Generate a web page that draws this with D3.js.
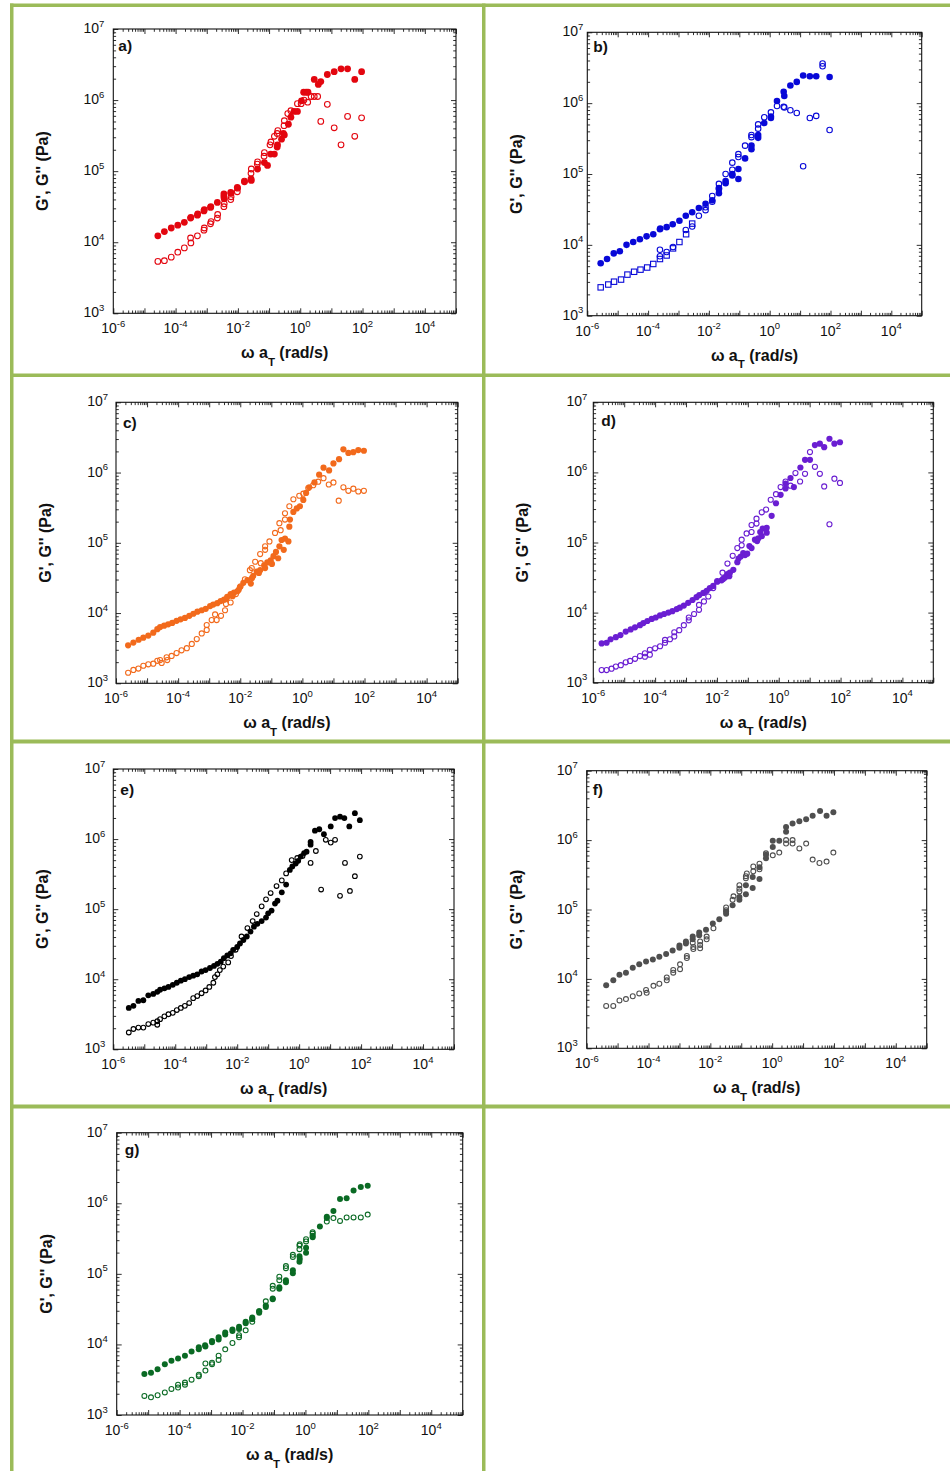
<!DOCTYPE html>
<html>
<head>
<meta charset="utf-8">
<script src="https://cdn.jsdelivr.net/npm/d3@7"></script>
<style>
  body { margin: 0; background: #fff; }
  svg { display: block; }
  text { font-family: "Liberation Sans", Arial, Helvetica, sans-serif; fill: #111; }
</style>
</head>
<body>
<svg id="fig" width="950" height="1471"></svg>
<script>
// Master curves G'(ω aT) and G''(ω aT); every point is [log10(ω aT / rad s^-1), log10(G / Pa)].

// a)
const aStorage = [[-4.57,4.09],[-4.36,4.15],[-4.14,4.20],[-3.93,4.24],[-3.72,4.28],[-3.52,4.34],[-3.51,4.35],[-3.30,4.38],[-3.29,4.40],[-3.09,4.44],[-3.08,4.46],[-2.88,4.49],[-2.87,4.50],[-2.66,4.56],[-2.45,4.64],[-2.45,4.68],[-2.44,4.61],[-2.23,4.70],[-2.22,4.69],[-2.02,4.77],[-1.79,4.85],[-1.58,4.89],[-1.57,4.87],[-1.37,5.03],[-1.15,5.12],[-1.05,5.08],[-0.95,5.24],[-0.83,5.24],[-0.74,5.34],[-0.73,5.37],[-0.60,5.45],[-0.54,5.53],[-0.51,5.51],[-0.38,5.66],[-0.30,5.76],[-0.20,5.84],[-0.09,5.84],[0.04,5.99],[0.11,6.11],[0.19,6.11],[0.25,6.11],[0.45,6.29],[0.58,6.22],[0.66,6.26],[0.87,6.36],[1.09,6.40],[1.31,6.44],[1.52,6.44],[1.75,6.29],[1.97,6.40]];
const aLoss = [[-4.57,3.73],[-4.36,3.74],[-4.14,3.79],[-3.93,3.86],[-3.72,3.92],[-3.52,4.06],[-3.51,3.99],[-3.30,4.09],[-3.09,4.17],[-3.08,4.20],[-2.88,4.26],[-2.86,4.29],[-2.66,4.34],[-2.65,4.39],[-2.45,4.50],[-2.44,4.54],[-2.23,4.60],[-2.22,4.64],[-2.02,4.71],[-2.01,4.76],[-1.79,4.86],[-1.58,4.97],[-1.57,5.03],[-1.38,5.10],[-1.37,5.13],[-1.16,5.21],[-1.15,5.26],[-0.97,5.37],[-0.94,5.41],[-0.83,5.49],[-0.74,5.53],[-0.72,5.57],[-0.52,5.64],[-0.51,5.71],[-0.40,5.81],[-0.30,5.85],[-0.09,5.95],[0.03,5.95],[0.12,6.00],[0.24,5.97],[0.35,6.05],[0.45,6.05],[0.56,6.05],[0.66,5.70],[0.87,5.94],[1.09,5.61],[1.31,5.37],[1.52,5.77],[1.75,5.49],[1.97,5.75]];

// b)
const bStorage = [[-5.56,3.74],[-5.35,3.80],[-5.13,3.88],[-4.93,3.91],[-4.71,4.00],[-4.49,4.04],[-4.27,4.08],[-4.05,4.12],[-3.83,4.15],[-3.61,4.22],[-3.60,4.23],[-3.39,4.25],[-3.19,4.29],[-2.97,4.34],[-2.76,4.41],[-2.55,4.46],[-2.33,4.52],[-2.11,4.58],[-1.89,4.63],[-1.67,4.73],[-1.67,4.79],[-1.45,4.87],[-1.45,4.90],[-1.23,4.98],[-1.23,5.00],[-1.03,5.07],[-1.03,4.93],[-0.81,5.22],[-0.60,5.35],[-0.60,5.40],[-0.38,5.51],[-0.38,5.55],[-0.18,5.72],[0.04,5.79],[0.04,5.81],[0.24,6.03],[0.46,6.16],[0.48,6.10],[0.68,6.25],[0.89,6.30],[1.10,6.39],[1.32,6.38],[1.53,6.38],[1.97,6.37]];
const bLoss = [[-3.61,3.93],[-3.61,3.84],[-3.39,3.90],[-3.18,3.97],[-2.76,4.21],[-2.55,4.26],[-2.33,4.41],[-2.11,4.49],[-2.11,4.53],[-1.89,4.61],[-1.89,4.69],[-1.67,4.80],[-1.67,4.86],[-1.45,5.00],[-1.23,5.06],[-1.23,5.16],[-1.03,5.28],[-1.03,5.24],[-0.81,5.40],[-0.60,5.55],[-0.60,5.52],[-0.38,5.70],[-0.38,5.64],[-0.18,5.80],[0.04,5.87],[0.24,5.96],[0.46,5.95],[0.48,5.94],[0.68,5.90],[0.89,5.86],[1.10,5.11],[1.32,5.79],[1.53,5.82],[1.74,6.56],[1.74,6.52],[1.97,5.62]];
const bLossLowFreq = [[-5.56,3.40],[-5.31,3.44],[-5.12,3.48],[-4.89,3.51],[-4.68,3.58],[-4.46,3.62],[-4.25,3.65],[-4.03,3.68],[-3.83,3.73],[-3.61,3.80],[-3.39,3.85],[-3.18,3.95],[-2.97,4.04],[-2.75,4.15],[-2.55,4.30]];

// c)
const cStorage = [[-5.61,3.54],[-5.44,3.58],[-5.27,3.62],[-5.12,3.65],[-4.96,3.68],[-4.80,3.72],[-4.67,3.77],[-4.58,3.80],[-4.45,3.82],[-4.32,3.84],[-4.19,3.86],[-4.05,3.89],[-3.92,3.91],[-3.78,3.93],[-3.64,3.96],[-3.51,3.99],[-3.38,4.02],[-3.24,4.04],[-3.11,4.06],[-2.97,4.10],[-2.87,4.12],[-2.74,4.14],[-2.63,4.17],[-2.52,4.19],[-2.45,4.20],[-2.42,4.23],[-2.31,4.27],[-2.25,4.24],[-2.20,4.29],[-2.09,4.31],[-2.05,4.33],[-2.01,4.37],[-1.90,4.43],[-1.77,4.47],[-1.66,4.42],[-1.62,4.50],[-1.58,4.53],[-1.47,4.59],[-1.40,4.57],[-1.36,4.61],[-1.23,4.68],[-1.20,4.64],[-1.13,4.72],[-1.02,4.75],[-0.98,4.70],[-0.93,4.81],[-0.85,4.87],[-0.78,4.78],[-0.74,4.95],[-0.67,5.04],[-0.60,4.90],[-0.56,5.06],[-0.45,5.02],[-0.42,5.23],[-0.40,5.33],[-0.29,5.44],[-0.18,5.49],[-0.08,5.52],[0.03,5.61],[0.12,5.71],[0.22,5.79],[0.39,5.86],[0.54,5.97],[0.68,6.07],[0.86,6.03],[1.00,6.13],[1.18,6.19],[1.32,6.33],[1.48,6.28],[1.64,6.29],[1.80,6.32],[1.98,6.31]];
const cLoss = [[-5.61,3.15],[-5.44,3.19],[-5.28,3.21],[-5.12,3.25],[-4.96,3.27],[-4.80,3.28],[-4.67,3.32],[-4.58,3.33],[-4.53,3.29],[-4.37,3.37],[-4.35,3.33],[-4.21,3.39],[-4.05,3.43],[-3.89,3.47],[-3.72,3.50],[-3.56,3.56],[-3.40,3.63],[-3.24,3.71],[-3.08,3.76],[-3.08,3.83],[-2.92,3.90],[-2.81,3.98],[-2.76,3.90],[-2.62,3.96],[-2.49,4.04],[-2.46,4.13],[-2.31,4.15],[-2.14,4.27],[-1.99,4.38],[-1.85,4.48],[-1.69,4.61],[-1.63,4.64],[-1.52,4.73],[-1.36,4.84],[-1.34,4.71],[-1.20,4.95],[-1.20,4.90],[-1.06,5.02],[-0.88,5.14],[-0.74,5.28],[-0.70,5.18],[-0.56,5.42],[-0.56,5.33],[-0.42,5.52],[-0.29,5.62],[-0.10,5.67],[0.03,5.70],[0.19,5.78],[0.35,5.82],[0.51,5.87],[0.68,5.92],[0.85,5.83],[1.00,5.86],[1.17,5.60],[1.32,5.79],[1.48,5.74],[1.64,5.77],[1.80,5.73],[1.98,5.74]];

// d)
const dStorage = [[-5.73,3.56],[-5.57,3.57],[-5.44,3.62],[-5.27,3.65],[-5.12,3.68],[-4.95,3.73],[-4.79,3.76],[-4.65,3.79],[-4.49,3.82],[-4.38,3.85],[-4.25,3.88],[-4.11,3.91],[-3.98,3.93],[-3.84,3.96],[-3.71,3.98],[-3.57,4.00],[-3.44,4.02],[-3.30,4.05],[-3.20,4.07],[-3.07,4.10],[-2.93,4.14],[-2.79,4.18],[-2.66,4.22],[-2.57,4.25],[-2.44,4.28],[-2.33,4.31],[-2.23,4.35],[-2.12,4.38],[-1.99,4.44],[-1.85,4.46],[-1.80,4.48],[-1.74,4.50],[-1.66,4.55],[-1.60,4.52],[-1.58,4.57],[-1.47,4.61],[-1.34,4.72],[-1.30,4.77],[-1.23,4.80],[-1.15,4.85],[-1.09,4.82],[-1.02,4.84],[-0.95,4.95],[-0.88,4.92],[-0.77,5.04],[-0.70,5.02],[-0.66,5.06],[-0.60,5.15],[-0.55,5.09],[-0.52,5.20],[-0.39,5.14],[-0.39,5.21],[-0.23,5.38],[-0.09,5.56],[0.06,5.68],[0.22,5.77],[0.22,5.84],[0.38,5.92],[0.49,5.79],[0.70,6.07],[0.85,6.18],[1.01,6.18],[1.17,6.39],[1.33,6.41],[1.47,6.36],[1.64,6.48],[1.80,6.41],[1.98,6.43]];
const dLoss = [[-5.73,3.18],[-5.57,3.18],[-5.41,3.20],[-5.27,3.23],[-5.11,3.25],[-4.95,3.29],[-4.81,3.31],[-4.65,3.34],[-4.49,3.38],[-4.33,3.37],[-4.33,3.42],[-4.17,3.40],[-4.17,3.47],[-4.00,3.49],[-3.84,3.52],[-3.68,3.57],[-3.68,3.61],[-3.52,3.62],[-3.38,3.66],[-3.38,3.72],[-3.22,3.75],[-3.07,3.82],[-2.91,3.89],[-2.91,3.93],[-2.74,3.98],[-2.58,4.04],[-2.58,4.11],[-2.42,4.16],[-2.28,4.23],[-2.12,4.35],[-1.99,4.45],[-1.82,4.57],[-1.66,4.70],[-1.49,4.81],[-1.34,4.92],[-1.20,5.04],[-1.20,4.96],[-1.04,5.13],[-0.88,5.15],[-0.88,5.25],[-0.72,5.34],[-0.72,5.27],[-0.55,5.43],[-0.41,5.47],[-0.26,5.61],[-0.09,5.69],[0.06,5.79],[0.22,5.87],[0.38,5.81],[0.54,5.99],[0.69,5.87],[0.85,5.98],[1.01,6.29],[1.17,6.08],[1.33,5.98],[1.47,5.80],[1.64,5.26],[1.80,5.91],[1.98,5.85]];

// e)
const eStorage = [[-5.50,3.59],[-5.35,3.62],[-5.19,3.69],[-5.03,3.70],[-4.87,3.77],[-4.71,3.79],[-4.58,3.82],[-4.49,3.85],[-4.35,3.87],[-4.22,3.89],[-4.08,3.92],[-3.95,3.95],[-3.82,3.98],[-3.69,4.00],[-3.55,4.03],[-3.42,4.05],[-3.29,4.07],[-3.15,4.11],[-3.02,4.13],[-2.88,4.16],[-2.75,4.19],[-2.64,4.22],[-2.53,4.25],[-2.43,4.30],[-2.32,4.34],[-2.21,4.37],[-2.13,4.42],[-2.00,4.46],[-1.91,4.51],[-1.80,4.56],[-1.69,4.61],[-1.57,4.68],[-1.46,4.75],[-1.35,4.79],[-1.21,4.83],[-1.07,4.88],[-1.00,4.94],[-0.89,4.98],[-0.78,5.08],[-0.70,5.12],[-0.56,5.24],[-0.42,5.35],[-0.30,5.56],[-0.22,5.61],[-0.11,5.65],[-0.03,5.69],[0.05,5.75],[0.16,5.80],[0.24,5.82],[0.37,5.96],[0.37,5.92],[0.51,6.12],[0.65,6.14],[0.80,6.07],[1.02,6.18],[1.16,6.30],[1.32,6.32],[1.46,6.30],[1.62,6.18],[1.80,6.37],[1.96,6.27]];
const eLoss = [[-5.50,3.24],[-5.35,3.29],[-5.19,3.31],[-5.03,3.31],[-4.87,3.36],[-4.71,3.38],[-4.58,3.40],[-4.58,3.35],[-4.49,3.43],[-4.35,3.47],[-4.22,3.50],[-4.08,3.52],[-3.95,3.56],[-3.82,3.59],[-3.69,3.62],[-3.55,3.66],[-3.42,3.73],[-3.29,3.76],[-3.15,3.80],[-3.02,3.84],[-2.90,3.89],[-2.77,3.95],[-2.72,4.03],[-2.64,4.07],[-2.56,4.13],[-2.45,4.18],[-2.29,4.24],[-2.20,4.33],[-2.05,4.42],[-1.86,4.61],[-1.67,4.73],[-1.50,4.83],[-1.37,4.93],[-1.21,5.04],[-1.07,5.14],[-0.92,5.23],[-0.73,5.33],[-0.56,5.41],[-0.42,5.51],[-0.24,5.70],[-0.06,5.73],[0.11,5.76],[0.37,5.66],[0.54,5.83],[0.71,5.28],[0.86,5.99],[1.02,5.95],[1.16,5.99],[1.32,5.19],[1.48,5.66],[1.64,5.26],[1.80,5.47],[1.96,5.75]];

// f)
const fStorage = [[-5.37,3.91],[-5.14,3.98],[-4.94,4.06],[-4.73,4.09],[-4.51,4.16],[-4.30,4.21],[-4.08,4.25],[-3.86,4.28],[-3.65,4.32],[-3.43,4.36],[-3.22,4.41],[-3.00,4.45],[-3.00,4.48],[-2.79,4.51],[-2.79,4.54],[-2.57,4.57],[-2.57,4.61],[-2.36,4.63],[-2.36,4.67],[-2.14,4.71],[-1.92,4.80],[-1.71,4.86],[-1.49,4.97],[-1.49,4.94],[-1.28,5.06],[-1.06,5.14],[-1.06,5.18],[-0.85,5.35],[-0.85,5.22],[-0.63,5.47],[-0.63,5.31],[-0.41,5.61],[-0.41,5.44],[-0.20,5.74],[-0.20,5.79],[0.02,5.90],[0.02,5.99],[0.23,5.99],[0.45,6.12],[0.45,6.19],[0.66,6.24],[0.88,6.27],[1.10,6.30],[1.31,6.35],[1.55,6.42],[1.76,6.35],[1.98,6.40]];
const fLoss = [[-5.37,3.61],[-5.14,3.61],[-4.94,3.69],[-4.73,3.71],[-4.51,3.75],[-4.30,3.79],[-4.08,3.84],[-4.06,3.80],[-3.84,3.90],[-3.65,3.93],[-3.41,3.98],[-3.41,4.02],[-3.20,4.09],[-3.20,4.13],[-2.98,4.14],[-2.98,4.21],[-2.76,4.30],[-2.76,4.33],[-2.55,4.43],[-2.55,4.46],[-2.57,4.52],[-2.33,4.44],[-2.33,4.49],[-2.33,4.54],[-2.12,4.57],[-2.12,4.61],[-1.90,4.73],[-1.49,4.99],[-1.49,5.03],[-1.28,5.14],[-1.25,5.19],[-1.06,5.30],[-1.06,5.26],[-1.06,5.35],[-0.85,5.48],[-0.85,5.45],[-0.82,5.52],[-0.61,5.62],[-0.61,5.55],[-0.41,5.66],[-0.41,5.58],[-0.20,5.81],[0.02,5.78],[0.23,5.82],[0.45,5.95],[0.45,6.00],[0.66,6.00],[0.66,5.95],[0.88,5.88],[1.10,5.95],[1.31,5.72],[1.53,5.67],[1.76,5.69],[1.98,5.82]];

// g)
const gStorage = [[-5.12,3.58],[-4.91,3.60],[-4.70,3.65],[-4.47,3.72],[-4.26,3.77],[-4.05,3.80],[-3.83,3.84],[-3.62,3.90],[-3.39,3.93],[-3.39,3.96],[-3.19,3.99],[-3.18,3.97],[-2.97,4.03],[-2.97,4.05],[-2.76,4.07],[-2.76,4.10],[-2.55,4.14],[-2.55,4.17],[-2.32,4.19],[-2.32,4.21],[-2.11,4.22],[-2.11,4.25],[-1.90,4.30],[-1.90,4.32],[-1.69,4.36],[-1.69,4.38],[-1.47,4.45],[-1.47,4.47],[-1.26,4.53],[-1.26,4.55],[-1.04,4.64],[-1.04,4.65],[-0.83,4.79],[-0.83,4.81],[-0.62,4.88],[-0.62,4.91],[-0.40,5.01],[-0.40,5.05],[-0.19,5.17],[-0.19,5.25],[-0.18,5.21],[0.02,5.37],[0.02,5.30],[0.23,5.52],[0.23,5.54],[0.46,5.67],[0.68,5.81],[0.68,5.79],[0.89,5.89],[1.10,6.06],[1.31,6.07],[1.53,6.18],[1.76,6.23],[1.98,6.25]];
const gLoss = [[-5.12,3.27],[-4.91,3.25],[-4.70,3.28],[-4.47,3.32],[-4.26,3.37],[-4.05,3.39],[-4.05,3.43],[-3.83,3.43],[-3.83,3.46],[-3.62,3.50],[-3.39,3.55],[-3.39,3.57],[-3.18,3.63],[-3.18,3.73],[-2.97,3.72],[-2.97,3.74],[-2.76,3.78],[-2.76,3.84],[-2.55,3.93],[-2.32,4.02],[-2.11,4.10],[-2.11,4.13],[-1.90,4.20],[-1.69,4.32],[-1.69,4.36],[-1.47,4.47],[-1.26,4.61],[-1.04,4.79],[-1.04,4.83],[-0.83,4.91],[-0.83,4.96],[-0.62,5.08],[-0.62,5.11],[-0.40,5.24],[-0.40,5.27],[-0.19,5.35],[-0.19,5.40],[-0.18,5.42],[0.02,5.46],[0.02,5.49],[0.23,5.57],[0.23,5.59],[0.68,5.74],[0.89,5.79],[1.10,5.75],[1.31,5.80],[1.53,5.80],[1.76,5.80],[1.98,5.84]];

// Axis decades and labels
const xDecades = [-6, -5, -4, -3, -2, -1, 0, 1, 2, 3, 4, 5];
const xLabelExponents = [-6, -4, -2, 0, 2, 4];
const yDecades = [3, 4, 5, 6, 7];
const yLabelExponents = [3, 4, 5, 6, 7];
const panelNames = ["a)", "b)", "c)", "d)", "e)", "f)", "g)"];
const xTitle = ["ω a", "T", " (rad/s)"];
const yTitle = "G', G'' (Pa)";

// Frame geometry and styling for each panel of the grid
const panels = [
  { name: panelNames[0], storage: aStorage, loss: aLoss, color: "#e3060f", left: 113.3, right: 456.0, top: 29.0,   bottom: 313.3, gap: 9, lab: [5, 22], r: 3.4 },
  { name: panelNames[1], storage: bStorage, loss: bLoss, lossSquares: bLossLowFreq, color: "#0808d8", left: 587.3, right: 921.7, top: 32.3, bottom: 315.7, gap: 4, lab: [6, 20], r: 3.3 },
  { name: panelNames[2], storage: cStorage, loss: cLoss, color: "#f26a1c", left: 116.0, right: 457.7, top: 402.3,  bottom: 683.3, gap: 8, lab: [7, 26], r: 3.1 },
  { name: panelNames[3], storage: dStorage, loss: dLoss, color: "#6a1ed2", left: 593.3, right: 933.3, top: 402.3,  bottom: 682.7, gap: 6, lab: [8, 24], r: 3.1 },
  { name: panelNames[4], storage: eStorage, loss: eLoss, color: "#000000", left: 113.3, right: 454.0, top: 769.0,  bottom: 1049.3, gap: 8, lab: [7, 26], r: 2.9 },
  { name: panelNames[5], storage: fStorage, loss: fLoss, color: "#4f4f4f", left: 586.7, right: 926.7, top: 770.7,  bottom: 1048.3, gap: 9, lab: [6, 24], r: 3.0 },
  { name: panelNames[6], storage: gStorage, loss: gLoss, color: "#0a6a24", left: 116.7, right: 462.7, top: 1132.7, bottom: 1415.0, gap: 9, lab: [8, 22], r: 3.0 }
];

const svg = d3.select("#fig");
svg.append("rect").attr("width", 950).attr("height", 1471).attr("fill", "#fff");

// Table rules around the panels
const GREEN = "#9bbb59";
const rules = [
  { x: 10,  y: 3.5,    w: 940, h: 3.5 },
  { x: 10,  y: 373.5,  w: 940, h: 3.5 },
  { x: 10,  y: 739.5,  w: 940, h: 4 },
  { x: 10,  y: 1104.5, w: 940, h: 4 },
  { x: 10,  y: 3.5,    w: 3.5, h: 1467.5 },
  { x: 482, y: 3.5,    w: 3.5, h: 1467.5 }
];
svg.selectAll("rect.rule").data(rules).join("rect")
  .attr("class", "rule")
  .attr("x", d => d.x).attr("y", d => d.y)
  .attr("width", d => d.w).attr("height", d => d.h)
  .attr("fill", GREEN);

const pow10 = e => Math.pow(10, e);
const xMajor = xDecades.map(pow10);
const xMinor = xDecades.slice(0, -1).flatMap(e => d3.range(2, 10).map(k => k * pow10(e)));
const yMajor = yDecades.map(pow10);
const yMinor = yDecades.slice(0, -1).flatMap(e => d3.range(2, 10).map(k => k * pow10(e)));

// one set of inward ticks (no domain line, no labels)
function tickSet(g, axis, values, size) {
  g.call(axis.tickValues(values).tickSize(-size).tickFormat(""))
   .call(s => s.select(".domain").remove())
   .attr("color", "#1a1a1a");
  g.selectAll("line").attr("stroke-width", 0.9);
}

function drawPanel(p) {
  const g = svg.append("g");
  const x = d3.scaleLog().domain([1e-6, 1e5]).range([p.left, p.right]);
  const y = d3.scaleLog().domain([1e3, 1e7]).range([p.bottom, p.top]);

  // mirrored inward ticks on all four sides
  const sides = [
    [() => d3.axisBottom(x), `translate(0,${p.bottom})`, xMajor, xMinor],
    [() => d3.axisTop(x),    `translate(0,${p.top})`,    xMajor, xMinor],
    [() => d3.axisLeft(y),   `translate(${p.left},0)`,   yMajor, yMinor],
    [() => d3.axisRight(y),  `translate(${p.right},0)`,  yMajor, yMinor]
  ];
  sides.forEach(([makeAxis, tr, major, minor]) => {
    tickSet(g.append("g").attr("transform", tr), makeAxis(), major, 5);
    tickSet(g.append("g").attr("transform", tr), makeAxis(), minor, 2.8);
  });

  g.append("rect")
    .attr("x", p.left).attr("y", p.top)
    .attr("width", p.right - p.left).attr("height", p.bottom - p.top)
    .attr("fill", "none").attr("stroke", "#111").attr("stroke-width", 1.1);

  // x tick labels 10^n
  xLabelExponents.forEach(e => {
    const t = g.append("text")
      .attr("x", x(pow10(e))).attr("y", p.bottom + 20)
      .attr("text-anchor", "middle");
    t.append("tspan").attr("font-size", 14).text("10");
    t.append("tspan").attr("font-size", 9.5).attr("dy", -6.5).text(String(e));
  });

  // y tick labels 10^n
  yLabelExponents.forEach(e => {
    const t = g.append("text")
      .attr("x", p.left - p.gap).attr("y", y(pow10(e)) + 4)
      .attr("text-anchor", "end");
    t.append("tspan").attr("font-size", 14).text("10");
    t.append("tspan").attr("font-size", 9.5).attr("dy", -6.5).text(String(e));
  });

  // axis titles
  const cx = (p.left + p.right) / 2;
  const xt = g.append("text")
    .attr("x", cx).attr("y", p.bottom + 45)
    .attr("text-anchor", "middle").attr("font-weight", "bold").attr("font-size", 16);
  xt.append("tspan").text(xTitle[0]);
  xt.append("tspan").attr("font-size", 11.5).attr("dy", 7.5).text(xTitle[1]);
  xt.append("tspan").attr("dy", -7.5).text(xTitle[2]);

  const cy = (p.top + p.bottom) / 2;
  g.append("text")
    .attr("transform", `translate(${p.left - 65},${cy}) rotate(-90)`)
    .attr("text-anchor", "middle").attr("font-weight", "bold").attr("font-size", 16)
    .text(yTitle);

  // panel tag
  g.append("text")
    .attr("x", p.left + p.lab[0]).attr("y", p.top + p.lab[1])
    .attr("font-weight", "bold").attr("font-size", 15.5)
    .text(p.name);

  const px = d => x(pow10(d[0]));
  const py = d => y(pow10(d[1]));

  // G' : filled circles
  g.append("g").selectAll("circle").data(p.storage).join("circle")
    .attr("cx", px).attr("cy", py).attr("r", p.r)
    .attr("fill", p.color);

  // G'' : open circles
  g.append("g").selectAll("circle").data(p.loss).join("circle")
    .attr("cx", px).attr("cy", py).attr("r", p.r - 0.55)
    .attr("fill", "none").attr("stroke", p.color).attr("stroke-width", 1.1);

  // G'' at the lowest frequencies (open squares)
  if (p.lossSquares) {
    const s = 5.4;
    g.append("g").selectAll("rect").data(p.lossSquares).join("rect")
      .attr("x", d => px(d) - s / 2).attr("y", d => py(d) - s / 2)
      .attr("width", s).attr("height", s)
      .attr("fill", "none").attr("stroke", p.color).attr("stroke-width", 1.1);
  }
}

panels.forEach(drawPanel);
</script>
</body>
</html>
